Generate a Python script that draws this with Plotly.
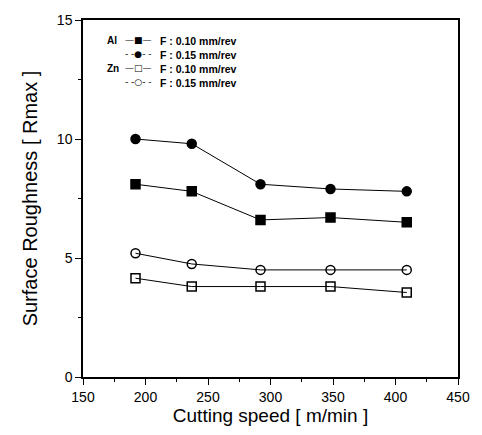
import plotly.graph_objects as go

speed = [192, 237, 292, 348, 409]
al_f010 = [8.1, 7.8, 6.6, 6.7, 6.5]
al_f015 = [10.0, 9.8, 8.1, 7.9, 7.8]
zn_f010 = [4.15, 3.8, 3.8, 3.8, 3.55]
zn_f015 = [5.2, 4.75, 4.5, 4.5, 4.5]
metals = ["Al", "", "Zn", ""]
keys = ["—■—", "- -●- -", "—□—", "- -○- -"]
names = ["F : 0.10 mm/rev", "F : 0.15 mm/rev", "F : 0.10 mm/rev", "F : 0.15 mm/rev"]

fig = go.Figure()
series = [
    (al_f010, "square", "black"),
    (al_f015, "circle", "black"),
    (zn_f010, "square-open", "black"),
    (zn_f015, "circle-open", "black"),
]
for (vals, sym, col), nm in zip(series, names):
    fig.add_trace(go.Scatter(
        x=speed, y=vals, mode="lines+markers", name=nm, showlegend=False,
        line=dict(color="black", width=1),
        marker=dict(symbol=sym, size=9, color=col,
                    line=dict(color="black", width=1.5)),
    ))

font = "Liberation Sans, Arial, sans-serif"
fig.update_layout(
    width=482, height=435,
    margin=dict(l=83, r=15, t=15, b=58),
    paper_bgcolor="white", plot_bgcolor="white",
    font=dict(family=font, color="black", size=14),
    xaxis=dict(range=[150, 450], tickvals=[150, 200, 250, 300, 350, 400, 450],
               ticks="outside", ticklen=6, tickwidth=1, tickcolor="black",
               showline=True, linecolor="black", linewidth=1.5, mirror=True,
               showgrid=False, zeroline=False,
               minor=dict(dtick=25, ticks="outside", ticklen=3, tickcolor="black", showgrid=False),
               title=dict(text="Cutting speed [ m/min ]", font=dict(size=19), standoff=3),
               tickfont=dict(size=14)),
    yaxis=dict(range=[0, 15], tickvals=[0, 5, 10, 15],
               ticks="outside", ticklen=6, tickwidth=1, tickcolor="black",
               showline=True, linecolor="black", linewidth=1.5, mirror=True,
               showgrid=False, zeroline=False,
               minor=dict(dtick=2.5, ticks="outside", ticklen=3, tickcolor="black", showgrid=False),
               title=dict(text="Surface Roughness [ Rmax ]", font=dict(size=20), standoff=14),
               tickfont=dict(size=14)),
)
row_y = [0.964, 0.923, 0.884, 0.845]
for i in range(4):
    if metals[i]:
        fig.add_annotation(text="<b>%s</b>" % metals[i], x=0.058, y=row_y[i],
                           xref="paper", yref="paper", showarrow=False,
                           font=dict(size=10, family=font), xanchor="left")
    fig.add_annotation(text=keys[i], x=0.148, y=row_y[i],
                       xref="paper", yref="paper", showarrow=False,
                       font=dict(size=9, family="DejaVu Sans"), xanchor="center")
    fig.add_annotation(text="<b>%s</b>" % names[i], x=0.2, y=row_y[i],
                       xref="paper", yref="paper", showarrow=False,
                       font=dict(size=10.5, family=font), xanchor="left")

fig.write_html("out.html")
